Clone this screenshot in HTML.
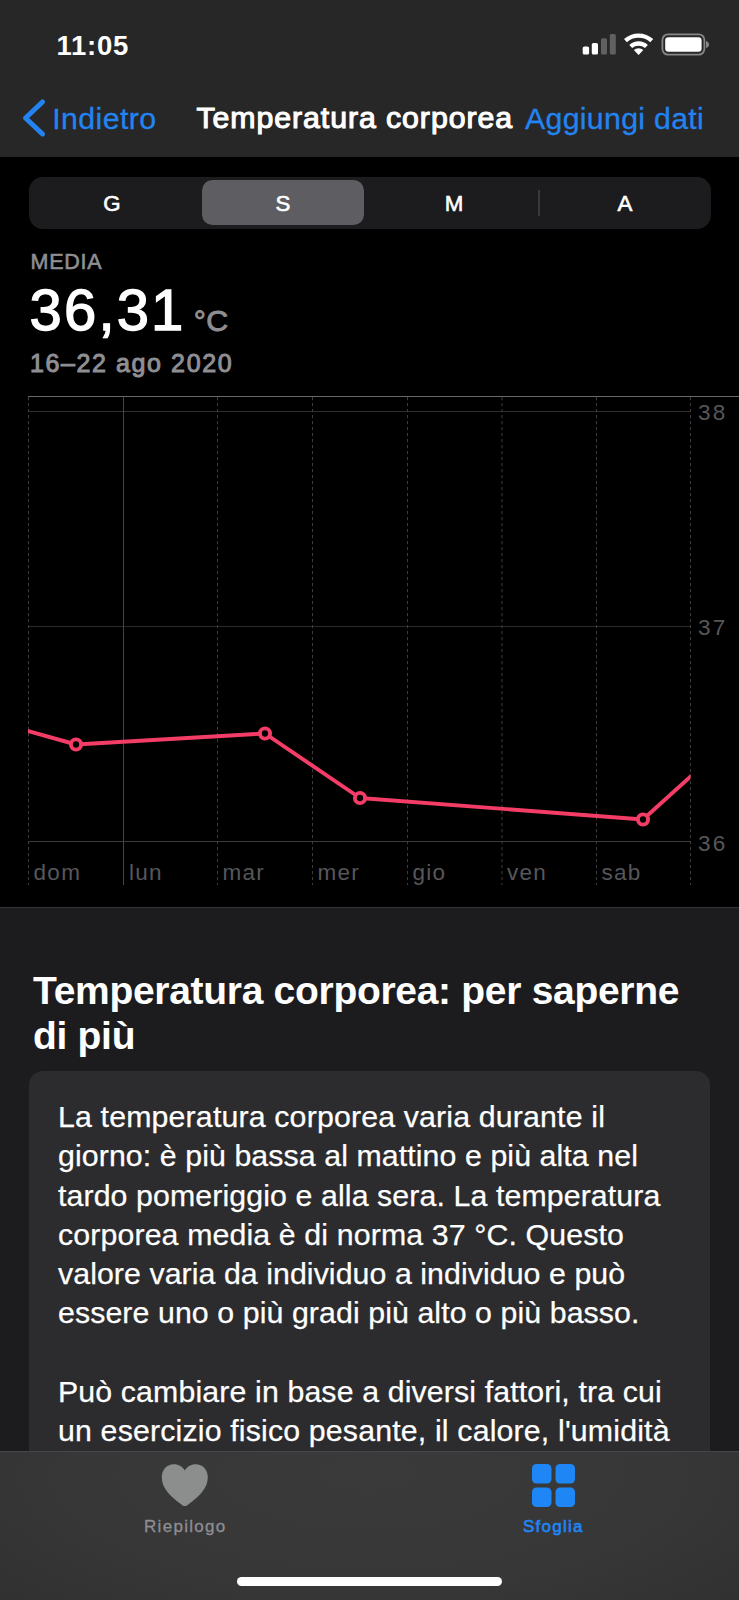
<!DOCTYPE html>
<html lang="it">
<head>
<meta charset="utf-8">
<title>Temperatura corporea</title>
<style>
html,body{margin:0;padding:0;background:#000;}
body{width:739px;height:1600px;position:relative;overflow:hidden;font-family:"Liberation Sans",sans-serif;color:#fff;}
.abs{position:absolute;white-space:nowrap;line-height:1;}
#top{position:absolute;left:0;top:0;width:739px;height:157px;background:#272727;}
#time{left:56.5px;top:31.5px;font-size:27.5px;font-weight:700;letter-spacing:.75px;}
#back{left:52.2px;top:104px;font-size:30.3px;color:#2384f1;letter-spacing:.42px;-webkit-text-stroke:.3px #2384f1;}
#title{left:196.5px;top:102.5px;font-size:30.3px;letter-spacing:.92px;-webkit-text-stroke:1.1px #fff;}
#add{left:525px;top:103.5px;font-size:30.3px;color:#2384f1;letter-spacing:.3px;-webkit-text-stroke:.3px #2384f1;}
#seg{position:absolute;left:28.7px;top:177px;width:682.3px;height:52px;border-radius:14px;background:#1c1c1e;}
#segsel{position:absolute;left:201.5px;top:180px;width:162.5px;height:45px;border-radius:10.5px;background:#5e5e62;}
.segl{font-size:22.3px;-webkit-text-stroke:.6px #fff;width:60px;text-align:center;top:192.5px;}
#segdiv{position:absolute;left:538px;top:190px;width:1.5px;height:26px;background:#3a3a3c;}
#media{left:30.5px;top:252px;font-size:21.5px;color:#8e8e93;-webkit-text-stroke:.6px #8e8e93;letter-spacing:.75px;}
#val{left:29.6px;top:281px;font-size:58px;letter-spacing:2.15px;-webkit-text-stroke:1.35px #fff;}
#unit{left:193.800px;top:306px;font-size:30.3px;color:#8e8e93;-webkit-text-stroke:.9px #8e8e93;letter-spacing:.4px;}
#date{left:30px;top:351px;font-size:25px;color:#8e8e93;letter-spacing:1.6px;-webkit-text-stroke:1px #8e8e93;}
#chart{position:absolute;left:0;top:380px;}
#lower{position:absolute;left:0;top:906.5px;width:739px;height:694px;background:#1c1c1e;border-top:1.5px solid #333335;box-sizing:border-box;}
#h2{left:33px;top:967.5px;font-size:39px;font-weight:700;line-height:45px;letter-spacing:-.3px;}
#card{position:absolute;left:28.8px;top:1070.8px;width:681.5px;height:560px;border-radius:14px;background:#2c2c2e;}
#body{left:58px;top:1097px;font-size:30.3px;line-height:39.27px;-webkit-text-stroke:.25px #fff;}
#tab{position:absolute;left:0;top:1450.5px;width:739px;height:150px;background:radial-gradient(ellipse 75% 140% at 50% 15%,#3a3a3b 0%,#373738 55%,#2f2f30 100%);border-top:1px solid #454547;box-sizing:border-box;}
#l1{left:144px;top:1518px;font-size:17px;color:#8e8e93;letter-spacing:1.3px;-webkit-text-stroke:.3px #8e8e93;}
#l2{left:523px;top:1518px;font-size:17px;color:#1e86f5;letter-spacing:1.25px;-webkit-text-stroke:.6px #1e86f5;}
#home{position:absolute;left:237px;top:1576.5px;width:265px;height:9.5px;border-radius:5px;background:#fff;}
</style>
</head>
<body>
<div id="top"></div>
<div id="time" class="abs">11:05</div>
<svg class="abs" style="left:575px;top:28px" width="140" height="32" viewBox="0 0 140 32">
 <rect x="7.700" y="18.500" width="6.400" height="8" rx="1.6" fill="#fff"/>
 <rect x="16.800" y="15" width="6.200" height="11.500" rx="1.6" fill="#fff"/>
 <rect x="26" y="10.300" width="6" height="16.200" rx="1.6" fill="#606060"/>
 <rect x="34.800" y="6" width="6" height="20.500" rx="1.6" fill="#606060"/>
 <g fill="none" stroke="#fff" stroke-linecap="butt">
  <path d="M50.450 12.600 A19.650 19.650 0 0 1 76.750 12.600" stroke-width="4.300"/>
  <path d="M55.770 18.510 A11.700 11.700 0 0 1 71.430 18.510" stroke-width="4.300"/>
 </g>
 <path d="M63.600 27 L58.900 22 A7 7 0 0 1 68.300 22 Z" fill="#fff"/>
 <rect x="87.400" y="6.400" width="42" height="20.200" rx="5.500" fill="none" stroke="#868686" stroke-width="1.800"/>
 <rect x="90.200" y="9.200" width="36.400" height="14.600" rx="3.200" fill="#fff"/>
 <path d="M131 13 q3 1 3 3.500 q0 2.500 -3 3.500 z" fill="#868686"/>
</svg>
<svg class="abs" style="left:18px;top:95px" width="32" height="46" viewBox="0 0 32 46">
 <path d="M24.5 7 L7.5 23 L24.5 39" fill="none" stroke="#2384f1" stroke-width="5" stroke-linecap="round" stroke-linejoin="round"/>
</svg>
<div id="back" class="abs">Indietro</div>
<div id="title" class="abs">Temperatura corporea</div>
<div id="add" class="abs">Aggiungi dati</div>

<div id="seg"></div>
<div id="segsel"></div>
<div id="segdiv"></div>
<div class="abs segl" style="left:82px">G</div>
<div class="abs segl" style="left:253px">S</div>
<div class="abs segl" style="left:424px">M</div>
<div class="abs segl" style="left:595px">A</div>

<div id="media" class="abs">MEDIA</div>
<div id="val" class="abs">36,31</div>
<div id="unit" class="abs">°C</div>
<div id="date" class="abs">16–22 ago 2020</div>

<svg id="chart" width="739" height="526" viewBox="0 380 739 526" font-family="Liberation Sans, sans-serif">
 <g stroke-width="1" fill="none">
  <path d="M28 411.500H690" stroke="#2f2f31"/>
  <path d="M28 626.500H690" stroke="#2b2b2d"/>
  <path d="M28 841.500H690" stroke="#3c3c3e"/>
  <path d="M123.500 397V885" stroke="#444446"/>
  <g stroke="#3c3c3e" stroke-dasharray="3.200 2.800">
   <path d="M28.500 397V885"/><path d="M217.500 397V885"/><path d="M312.500 397V885"/><path d="M407.500 397V885"/><path d="M502 397V885"/><path d="M596.500 397V885"/><path d="M690.500 397V885"/>
  </g>
  <path d="M28 396.500H739" stroke="#68686a" stroke-width="1.2"/>
 </g>
 <g fill="#57575b" font-size="22.500" letter-spacing="1.3">
  <text x="33.500" y="880">dom</text><text x="129" y="880">lun</text><text x="222.500" y="880">mar</text><text x="317.500" y="880">mer</text><text x="412.500" y="880">gio</text><text x="507" y="880">ven</text><text x="601.500" y="880">sab</text>
 </g>
 <g fill="#57575b" font-size="22.500" letter-spacing="2.2">
  <text x="698" y="420">38</text><text x="698" y="635">37</text><text x="698" y="851">36</text>
 </g>
 <clipPath id="cp"><rect x="28" y="397" width="662.500" height="490"/></clipPath>
 <path clip-path="url(#cp)" d="M22 729.300 L76 744.500 L265 733.500 L360 798 L643 819.500 L698 769.700" fill="none" stroke="#f43d66" stroke-width="3.9" stroke-linejoin="round"/>
 <g fill="#000" stroke="#f43d66" stroke-width="3.9">
  <circle cx="76" cy="744.500" r="5.100"/><circle cx="265" cy="733.500" r="5.100"/><circle cx="360" cy="798" r="5.100"/><circle cx="643" cy="819.500" r="5.100"/>
 </g>
</svg>

<div id="lower"></div>
<div id="h2" class="abs">Temperatura corporea: per saperne<br>di più</div>
<div id="card"></div>
<div id="body" class="abs"><span style="letter-spacing:0.162px">La temperatura corporea varia durante il</span><br><span style="letter-spacing:0.089px">giorno: è più bassa al mattino e più alta nel</span><br><span style="letter-spacing:0.104px">tardo pomeriggio e alla sera. La temperatura</span><br><span style="letter-spacing:0.126px">corporea media è di norma 37 °C. Questo</span><br><span style="letter-spacing:0.068px">valore varia da individuo a individuo e può</span><br><span style="letter-spacing:0.086px">essere uno o più gradi più alto o più basso.</span><br><br><span style="letter-spacing:0.129px">Può cambiare in base a diversi fattori, tra cui</span><br><span style="letter-spacing:0.165px">un esercizio fisico pesante, il calore, l'umidità</span></div>

<div id="tab"></div>
<svg class="abs" style="left:158px;top:1460px" width="54" height="50" viewBox="0 0 54 50">
 <path d="M26.800 46 C25.600 46 24.600 45.300 23.400 44.400 C13.500 37.300 3.800 29 3.800 17.300 C3.800 9.600 9.200 4.300 15.800 4.300 C20.600 4.300 24.600 6.800 26.800 10.400 C29 6.800 33 4.300 37.800 4.300 C44.400 4.300 49.800 9.600 49.800 17.300 C49.800 29 40.100 37.300 30.200 44.400 C29 45.300 28 46 26.800 46 Z" fill="#8c8e8d"/>
</svg>
<svg class="abs" style="left:528px;top:1460px" width="52" height="52" viewBox="0 0 52 52">
 <g fill="#1e86f5"><rect x="4" y="4" width="19.500" height="19.500" rx="4.500"/><rect x="27.500" y="4" width="19.500" height="19.500" rx="4.500"/><rect x="4" y="27.500" width="19.500" height="19.500" rx="4.500"/><rect x="27.500" y="27.500" width="19.500" height="19.500" rx="4.500"/></g>
</svg>
<div id="l1" class="abs">Riepilogo</div>
<div id="l2" class="abs">Sfoglia</div>
<div id="home"></div>
</body>
</html>
